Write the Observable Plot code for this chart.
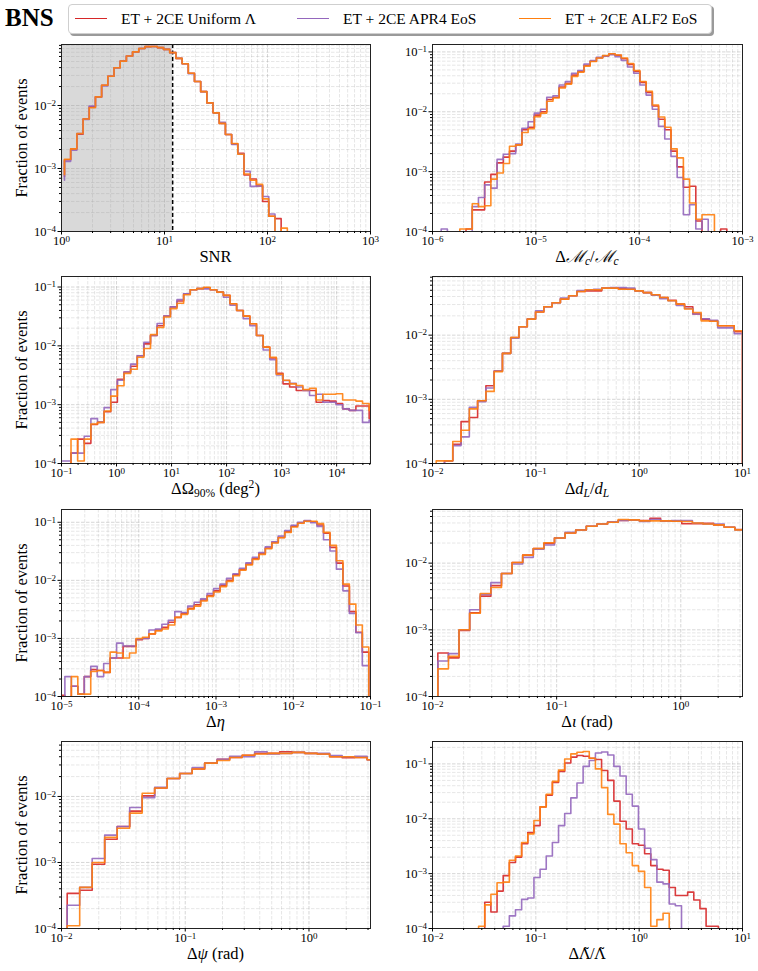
<!DOCTYPE html>
<html><head><meta charset="utf-8">
<script src="https://cdn.jsdelivr.net/npm/d3@7"></script>
<script src="https://cdn.jsdelivr.net/npm/@observablehq/plot@0.6"></script>
<style>
body{margin:0;background:#fff;}
#fig{position:relative;width:758px;height:971px;overflow:hidden;font-family:"Liberation Serif","DejaVu Serif",serif;color:#000;}
.xl{position:absolute;font-size:16.5px;line-height:18px;text-align:center;white-space:nowrap;transform:translateX(-50%);}
.yl{position:absolute;font-size:16.5px;line-height:20px;white-space:nowrap;transform:translate(-50%,-50%) rotate(-90deg);}
sub{font-size:70%;vertical-align:-0.3em;line-height:0;}
sup{font-size:70%;vertical-align:0.5em;line-height:0;}
.lt{font-family:"DejaVu Serif",serif;font-size:15px;}
#title{position:absolute;left:5px;top:4px;font-weight:bold;font-size:25px;}
#legend{position:absolute;left:68px;top:4px;width:642px;height:28px;border:1px solid #cfcfcf;border-radius:4px;background:#fff;box-shadow:2px 2px 0 #9a9a9a;}
.li{position:absolute;top:0;height:28px;line-height:28px;font-size:15.5px;white-space:nowrap;}
.sw{position:absolute;top:13px;width:32px;height:0;border-top:1.6px solid;}
</style></head><body><div id="fig"><div id="title">BNS</div><div id="legend"></div></div>
<script>
// ---------------- data ----------------
const seriesNames = ["ET + 2CE Uniform Λ", "ET + 2CE APR4 EoS", "ET + 2CE ALF2 EoS"];
const seriesColors = ["#d62728", "#9467bd", "#ff7f0e"];

// log10 bin spec: [first edge (log10), bin width (decades)]
const snr_bins = [0.029, 0.0601];
const snr_uniform = [1.38e-3,2.04e-3,3.5e-3,6.1e-3,9.5e-3,1.37e-2,2.1e-2,2.92e-2,3.98e-2,5.06e-2,6.1e-2,7.1e-2,8.05e-2,8.6e-2,8.65e-2,8.3e-2,7.77e-2,6.9e-2,5.6e-2,4.6e-2,3.26e-2,2.41e-2,1.66e-2,1.1e-2,7.65e-3,5.2e-3,3.46e-3,2.46e-3,1.75e-3,7.9e-4,6.8e-4,5.3e-4,3.0e-4,1.75e-4,1.6e-4,0,0];
const snr_apr4 = [1.3e-3,1.95e-3,3.6e-3,6.0e-3,9.8e-3,1.37e-2,2.05e-2,2.92e-2,3.98e-2,5.06e-2,6.1e-2,7.1e-2,8.05e-2,8.6e-2,8.65e-2,8.3e-2,7.77e-2,6.9e-2,5.6e-2,4.6e-2,3.2e-2,2.4e-2,1.66e-2,1.1e-2,7.65e-3,5.4e-3,3.46e-3,2.4e-3,1.7e-3,9.0e-4,5.2e-4,5.3e-4,3.6e-4,1.9e-4,0,0,0];
const snr_alf2 = [1.4e-3,2.05e-3,3.6e-3,6.1e-3,9.2e-3,1.37e-2,2.1e-2,2.92e-2,3.98e-2,5.06e-2,6.1e-2,7.1e-2,8.05e-2,8.6e-2,8.65e-2,8.3e-2,7.77e-2,6.9e-2,5.6e-2,4.6e-2,3.26e-2,2.41e-2,1.66e-2,1.1e-2,7.65e-3,5.2e-3,3.46e-3,2.5e-3,1.68e-3,8.2e-4,6.5e-4,5.6e-4,3.3e-4,1.75e-4,0,1.13e-4,0];
const snr_start = [7.5e-4, 6.5e-4, 8.0e-4];
const snrThreshold = 12;

const mc_bins = [-5.916, 0.0601];
const mc_uniform = [0,0,0,0,1.1e-4,2.3e-4,2.3e-4,6.7e-4,9.0e-4,1.4e-3,1.75e-3,2.2e-3,2.8e-3,5.0e-3,5.5e-3,8.8e-3,1.0e-2,1.6e-2,1.75e-2,2.6e-2,3.0e-2,4.1e-2,4.7e-2,6.0e-2,7.0e-2,8.0e-2,8.6e-2,9.2e-2,8.8e-2,7.7e-2,6.2e-2,4.7e-2,3.1e-2,2.1e-2,1.25e-2,7.5e-3,5.0e-3,2.2e-3,1.2e-3,5.5e-4,5.7e-4,1.5e-4,0,0,0,1.1e-4];
const mc_apr4 = [1.1e-4,0,0,0,0,2.6e-4,3.7e-4,6.0e-4,5.3e-4,1.6e-3,1.95e-3,2.0e-3,2.9e-3,5.3e-3,6.8e-3,9.5e-3,1.1e-2,1.75e-2,1.85e-2,2.8e-2,3.2e-2,4.4e-2,4.9e-2,6.3e-2,7.2e-2,8.1e-2,8.6e-2,9.0e-2,8.3e-2,7.2e-2,5.6e-2,4.4e-2,2.8e-2,1.9e-2,1.1e-2,5.7e-3,3.5e-3,1.8e-3,8.0e-4,1.9e-4,2.8e-4,1.1e-4,1.6e-4,0,0,0];
const mc_alf2 = [0,0,0,1.1e-4,1.1e-4,2.9e-4,2.6e-4,2.7e-4,7.5e-4,9.5e-4,1.37e-3,2.65e-3,2.8e-3,4.5e-3,5.2e-3,8.3e-3,9.5e-3,1.5e-2,1.7e-2,2.5e-2,2.9e-2,3.9e-2,4.6e-2,5.8e-2,6.9e-2,7.9e-2,8.7e-2,9.3e-2,8.9e-2,7.9e-2,6.4e-2,4.9e-2,3.2e-2,2.2e-2,1.3e-2,8.2e-3,5.5e-3,2.4e-3,1.7e-3,7.5e-4,3.0e-4,1.6e-4,1.9e-4,1.9e-4,0,0];

const om_bins = [-1.068, 0.1204];
const om_uniform = [0,0,1.5e-4,2.6e-4,2.2e-4,4.6e-4,5.0e-4,7.6e-4,1.1e-3,2.7e-3,3.6e-3,4.5e-3,6.8e-3,1.08e-2,1.5e-2,2.2e-2,3.2e-2,4.6e-2,5.8e-2,7.7e-2,9.0e-2,9.4e-2,9.7e-2,9.0e-2,8.2e-2,7.2e-2,5.2e-2,4.0e-2,3.2e-2,2.37e-2,1.5e-2,9.5e-3,6.2e-3,3.4e-3,2.26e-3,2.0e-3,1.74e-3,1.74e-3,1.74e-3,1.1e-3,1.17e-3,1.15e-3,1.05e-3,8.5e-4,8.0e-4,9.5e-4,9.5e-4,5.8e-4];
const om_apr4 = [1.1e-4,1.1e-4,1.5e-4,1.5e-4,2.9e-4,5.8e-4,5.1e-4,8.9e-4,1.8e-3,2.6e-3,3.6e-3,4.9e-3,6.8e-3,1.15e-2,1.5e-2,2.4e-2,3.2e-2,4.6e-2,6.1e-2,7.7e-2,9.0e-2,9.4e-2,9.3e-2,9.0e-2,8.2e-2,6.7e-2,4.9e-2,4.0e-2,2.9e-2,2.2e-2,1.5e-2,8.5e-3,5.8e-3,3.2e-3,2.57e-3,2.3e-3,2.0e-3,1.74e-3,1.43e-3,1.5e-3,1.1e-3,1.1e-3,1.0e-3,8.5e-4,8.0e-4,8.0e-4,5.0e-4,5.5e-4];
const om_alf2 = [0,0,2.6e-4,1.1e-4,2.6e-4,4.7e-4,5.0e-4,7.8e-4,1.4e-3,2.1e-3,3.4e-3,4.0e-3,6.4e-3,9.0e-3,1.55e-2,2.05e-2,3.1e-2,4.3e-2,5.3e-2,7.4e-2,9.0e-2,9.4e-2,9.9e-2,9.0e-2,8.2e-2,7.2e-2,5.2e-2,4.0e-2,3.2e-2,2.37e-2,1.5e-2,9.5e-3,6.4e-3,3.3e-3,2.6e-3,2.26e-3,2.12e-3,1.8e-3,1.9e-3,1.2e-3,1.5e-3,1.5e-3,1.53e-3,1.2e-3,1.2e-3,1.15e-3,1.05e-3,8.0e-4];

const dl_bins = [-1.964, 0.08011];
const dl_uniform = [0,1.1e-4,2.0e-4,4.5e-4,5.2e-4,9.5e-4,1.63e-3,2.77e-3,5.2e-3,9.2e-3,1.35e-2,1.78e-2,2.3e-2,2.77e-2,3.19e-2,3.64e-2,4.1e-2,4.79e-2,4.9e-2,4.9e-2,5.4e-2,5.4e-2,5.3e-2,5.2e-2,4.9e-2,4.6e-2,4.25e-2,3.86e-2,3.5e-2,3.04e-2,2.77e-2,2.13e-2,1.78e-2,1.67e-2,1.4e-2,1.4e-2,1.13e-2];
const dl_apr4 = [0,1.1e-4,1.9e-4,2.6e-4,7.5e-4,9.2e-4,1.5e-3,2.77e-3,5.2e-3,9.0e-3,1.35e-2,1.78e-2,2.4e-2,2.77e-2,3.19e-2,3.8e-2,4.1e-2,4.95e-2,5.1e-2,5.2e-2,5.4e-2,5.5e-2,5.5e-2,5.4e-2,4.9e-2,4.6e-2,4.2e-2,3.7e-2,3.43e-2,2.9e-2,2.6e-2,2.13e-2,1.8e-2,1.7e-2,1.3e-2,1.3e-2,1.05e-2];
const dl_alf2 = [1.1e-4,1.1e-4,2.2e-4,3.3e-4,7.1e-4,9.5e-4,1.33e-3,2.7e-3,5.2e-3,9.2e-3,1.35e-2,1.78e-2,2.3e-2,2.77e-2,3.19e-2,3.64e-2,4.1e-2,4.79e-2,5.1e-2,5.1e-2,5.4e-2,5.4e-2,5.2e-2,5.2e-2,4.9e-2,4.6e-2,4.25e-2,3.86e-2,3.43e-2,3.04e-2,2.55e-2,2.25e-2,1.67e-2,1.65e-2,1.4e-2,1.4e-2,1.17e-2];

const eta_bins = [-5.04, 0.0837];
const eta_uniform = [1.05e-4,0,1.5e-4,1.1e-4,2.2e-4,2.9e-4,2.8e-4,2.6e-4,4.6e-4,4.6e-4,7.3e-4,7.3e-4,9.5e-4,1.0e-3,1.2e-3,1.4e-3,1.55e-3,1.9e-3,2.3e-3,2.7e-3,3.3e-3,3.8e-3,4.6e-3,5.5e-3,6.6e-3,8.1e-3,1.0e-2,1.25e-2,1.54e-2,1.9e-2,2.35e-2,2.9e-2,3.6e-2,4.5e-2,5.5e-2,6.9e-2,8.6e-2,9.8e-2,0.105,0.102,0.09,0.065,0.037,0.0198,0.008,0.0029,0.00128,5.8e-4];
const eta_apr4 = [0,2.2e-4,1.5e-4,1.1e-4,2.2e-4,3.3e-4,2.2e-4,3.7e-4,4.6e-4,8.3e-4,7.4e-4,7.4e-4,9.8e-4,1.0e-3,1.4e-3,1.45e-3,1.75e-3,2.05e-3,2.9e-3,2.8e-3,3.6e-3,4.2e-3,4.8e-3,5.9e-3,7.2e-3,8.6e-3,1.08e-2,1.3e-2,1.62e-2,2.0e-2,2.5e-2,3.0e-2,3.8e-2,4.6e-2,5.8e-2,7.2e-2,8.9e-2,0.1,0.107,0.098,0.085,0.05,0.032,0.0156,0.0066,0.0027,0.00125,3.4e-4];
const eta_alf2 = [0,0,2.2e-4,1.1e-4,1.1e-4,2.7e-4,2.8e-4,2.6e-4,5.8e-4,5.6e-4,4.6e-4,5.6e-4,1.0e-3,1.05e-3,1.2e-3,1.35e-3,1.45e-3,1.7e-3,2.3e-3,2.6e-3,3.2e-3,3.6e-3,4.4e-3,5.3e-3,6.3e-3,7.8e-3,9.6e-3,1.2e-2,1.5e-2,1.85e-2,2.3e-2,2.8e-2,3.5e-2,4.4e-2,5.4e-2,6.7e-2,8.3e-2,0.096,0.104,0.104,0.095,0.067,0.04,0.0217,0.0086,0.0039,0.0017,7.1e-4];

const iota_bins = [-1.957, 0.08544];
const iota_uniform = [4.5e-4,3.8e-4,9.8e-4,1.8e-3,3.2e-3,4.6e-3,7.0e-3,1.02e-2,1.32e-2,1.66e-2,1.98e-2,2.38e-2,2.83e-2,3.14e-2,3.57e-2,3.87e-2,4.1e-2,4.35e-2,4.45e-2,4.35e-2,4.7e-2,4.3e-2,4.25e-2,3.9e-2,3.9e-2,3.95e-2,3.74e-2,3.45e-2,3.2e-2];
const iota_apr4 = [3.4e-4,4.4e-4,1.0e-3,2.0e-3,3.4e-3,5.1e-3,7.0e-3,9.7e-3,1.22e-2,1.62e-2,1.87e-2,2.38e-2,2.9e-2,3.14e-2,3.57e-2,3.87e-2,4.15e-2,4.35e-2,4.45e-2,4.2e-2,4.5e-2,4.3e-2,4.35e-2,4.35e-2,4.0e-2,3.87e-2,3.87e-2,3.45e-2,3.15e-2];
const iota_alf2 = [2.6e-4,4.0e-4,1.0e-3,1.77e-3,3.5e-3,4.3e-3,7.0e-3,1.02e-2,1.32e-2,1.66e-2,2.02e-2,2.38e-2,2.83e-2,3.14e-2,3.57e-2,3.87e-2,4.1e-2,4.5e-2,4.45e-2,4.3e-2,4.3e-2,4.3e-2,4.25e-2,4.2e-2,4.0e-2,3.87e-2,3.74e-2,3.45e-2,3.15e-2];

const psi_bins = [-1.954, 0.101];
const psi_uniform = [3.4e-4,3.8e-4,9.4e-4,2.25e-3,3.5e-3,6.0e-3,1.02e-2,1.34e-2,1.87e-2,2.23e-2,2.6e-2,3.2e-2,3.67e-2,3.9e-2,4.2e-2,4.5e-2,4.5e-2,4.75e-2,4.65e-2,4.5e-2,4.4e-2,4.0e-2,3.85e-2,3.9e-2,3.6e-2];
const psi_apr4 = [2.25e-4,4.2e-4,1.15e-3,2.6e-3,3.5e-3,6.8e-3,9.6e-3,1.38e-2,1.87e-2,2.23e-2,2.75e-2,3.2e-2,3.67e-2,4.05e-2,4.0e-2,4.75e-2,4.4e-2,4.5e-2,4.65e-2,4.5e-2,4.5e-2,4.15e-2,4.0e-2,4.05e-2,3.6e-2];
const psi_alf2 = [1.1e-4,4.2e-4,1.0e-3,2.4e-3,3.3e-3,5.6e-3,1.12e-2,1.34e-2,1.87e-2,2.23e-2,2.6e-2,3.2e-2,3.5e-2,3.9e-2,4.2e-2,4.4e-2,4.5e-2,4.5e-2,4.65e-2,4.5e-2,4.4e-2,4.0e-2,4.0e-2,3.9e-2,3.6e-2];

const lam_bins = [-1.5538, 0.0595];
const lam_uniform = [0,3.0e-4,2.0e-4,4.8e-4,9.2e-4,1.6e-3,2.0e-3,3.5e-3,5.6e-3,7.5e-3,1.65e-2,2.7e-2,4.6e-2,7.3e-2,0.104,0.133,0.142,0.138,0.127,0.12,0.076,0.05,0.021,9.0e-3,6.5e-3,3.5e-3,3.3e-3,2.3e-3,1.4e-3,1.2e-3,1.15e-3,5.6e-4,4.0e-4,4.0e-4,4.6e-4,3.3e-4,2.3e-4,1.1e-4,1.1e-4];
const lam_apr4 = [0,0,0,0,1.1e-4,1.7e-4,2.2e-4,3.4e-4,3.6e-4,8.5e-4,1.2e-3,2.1e-3,3.7e-3,7.5e-3,1.25e-2,2.4e-2,4.5e-2,9.0e-2,0.115,0.158,0.165,0.145,0.09,0.06,0.028,0.017,6.5e-3,2.9e-3,1.8e-3,7.0e-4,6.5e-4,2.8e-4,2.6e-4,0,0,0,0,0,0];
const lam_alf2 = [1.1e-4,2.7e-4,4.2e-4,6.8e-4,7.0e-4,1.75e-3,2.1e-3,3.7e-3,5.3e-3,9.3e-3,1.65e-2,2.8e-2,4.8e-2,7.7e-2,0.123,0.152,0.163,0.168,0.127,0.081,0.037,0.012,8.0e-3,3.5e-3,2.4e-3,1.4e-3,1.1e-3,5.6e-4,1.1e-4,1.45e-4,1.9e-4,0,0,0,0,0,0,0,0];

// axis domains and labelled decades (exponents)
const snr_x = [1, 1000], snr_y = [1e-4, 0.093], snr_xexp = [0,1,2,3], snr_yexp = [-4,-3,-2];
const mc_x = [1e-6, 1e-3], mc_y = [1e-4, 0.133], mc_xexp = [-6,-5,-4,-3], mc_yexp = [-4,-3,-2,-1];
const om_x = [0.1, 41253], om_y = [1e-4, 0.151], om_xexp = [-1,0,1,2,3,4], om_yexp = [-4,-3,-2,-1];
const dl_x = [0.01, 10], dl_y = [1e-4, 0.082], dl_xexp = [-2,-1,0,1], dl_yexp = [-4,-3,-2];
const eta_x = [1e-5, 0.1], eta_y = [1e-4, 0.166], eta_xexp = [-5,-4,-3,-2,-1], eta_yexp = [-4,-3,-2,-1];
const iota_x = [0.01, Math.PI], iota_y = [1e-4, 0.0637], iota_xexp = [-2,-1,0], iota_yexp = [-4,-3,-2];
const psi_x = [0.01, Math.PI], psi_y = [1e-4, 0.068], psi_xexp = [-2,-1,0], psi_yexp = [-4,-3,-2];
const lam_x = [0.01, 10], lam_y = [1e-4, 0.256], lam_xexp = [-2,-1,0,1], lam_yexp = [-4,-3,-2,-1];

const xLabels = [
  "SNR",
  "Δ<i>ℳ</i><sub><i>c</i></sub>/<i>ℳ</i><sub><i>c</i></sub>",
  "ΔΩ<sub>90%</sub> (deg<sup>2</sup>)",
  "Δ<i>d</i><sub><i>L</i></sub>/<i>d</i><sub><i>L</i></sub>",
  "Δ<i>η</i>",
  "Δ<i>ι</i> (rad)",
  "Δ<i>ψ</i> (rad)",
  "Δ<span class=\"lt\">Λ\u0303</span>/<span class=\"lt\">Λ\u0303</span>"
];
const yLabel = "Fraction of events";

// ---------------- layout ----------------
const panels = [
  {bins: snr_bins, s: [snr_uniform, snr_apr4, snr_alf2], x: snr_x, y: snr_y, xe: snr_xexp, ye: snr_yexp, start: snr_start, shade: snrThreshold},
  {bins: mc_bins, s: [mc_uniform, mc_apr4, mc_alf2], x: mc_x, y: mc_y, xe: mc_xexp, ye: mc_yexp},
  {bins: om_bins, s: [om_uniform, om_apr4, om_alf2], x: om_x, y: om_y, xe: om_xexp, ye: om_yexp},
  {bins: dl_bins, s: [dl_uniform, dl_apr4, dl_alf2], x: dl_x, y: dl_y, xe: dl_xexp, ye: dl_yexp},
  {bins: eta_bins, s: [eta_uniform, eta_apr4, eta_alf2], x: eta_x, y: eta_y, xe: eta_xexp, ye: eta_yexp},
  {bins: iota_bins, s: [iota_uniform, iota_apr4, iota_alf2], x: iota_x, y: iota_y, xe: iota_xexp, ye: iota_yexp},
  {bins: psi_bins, s: [psi_uniform, psi_apr4, psi_alf2], x: psi_x, y: psi_y, xe: psi_xexp, ye: psi_yexp},
  {bins: lam_bins, s: [lam_uniform, lam_apr4, lam_alf2], x: lam_x, y: lam_y, xe: lam_xexp, ye: lam_yexp}
];
const colLeft = [0, 379], svgW = 379, mLeft = [61, 53], mRight = [9, 16];
const rowTop = [36, 268, 501, 733], svgH = 232, mTop = 8, mBottom = 37;
const FLOOR = 1e-8;

function stepPoints([lo, w], vals, start) {
  const e = i => Math.pow(10, lo + i * w);
  const pts = [{x: e(0), y: start ?? FLOOR}];
  vals.forEach((v, i) => { const y = v > 0 ? v : FLOOR; pts.push({x: e(i), y}, {x: e(i + 1), y}); });
  pts.push({x: e(vals.length), y: FLOOR});
  return pts;
}
function minor([a, b]) {
  const out = [];
  for (let d = Math.floor(Math.log10(a)); d <= Math.ceil(Math.log10(b)); d++)
    for (let m = 2; m <= 9; m++) { const v = m * Math.pow(10, d); if (v > a * 1.0001 && v < b * 0.9999) out.push(v); }
  return out;
}
const fmt = d => "10^" + Math.round(Math.log10(d));
const fig = document.getElementById("fig");
const FONT = '"Liberation Serif","DejaVu Serif",serif';

panels.forEach((p, i) => {
  const col = i % 2, row = Math.floor(i / 2);
  const xMaj = p.xe.map(e => Math.pow(10, e)), yMaj = p.ye.map(e => Math.pow(10, e));
  const xMin = minor(p.x), yMin = minor(p.y);
  const marks = [];
  if (p.shade) marks.push(Plot.rect([p.shade], {x1: () => p.x[0], x2: d => d, y1: () => p.y[0], y2: () => p.y[1], fill: "#d9d9d9"}));
  marks.push(
    Plot.gridX(xMin, {stroke: "#9a9a9a", strokeOpacity: 0.3, strokeDasharray: "3.5,1.5", strokeWidth: 0.8}),
    Plot.gridY(yMin, {stroke: "#9a9a9a", strokeOpacity: 0.3, strokeDasharray: "3.5,1.5", strokeWidth: 0.8}),
    Plot.gridX(xMaj, {stroke: "#9a9a9a", strokeOpacity: 0.5, strokeDasharray: "3.5,1.5", strokeWidth: 0.8}),
    Plot.gridY(yMaj, {stroke: "#9a9a9a", strokeOpacity: 0.5, strokeDasharray: "3.5,1.5", strokeWidth: 0.8})
  );
  if (p.shade) marks.push(Plot.ruleX([p.shade], {stroke: "#000", strokeWidth: 1.5, strokeDasharray: "4,2.5"}));
  p.s.forEach((vals, k) => {
    marks.push(Plot.line(stepPoints(p.bins, vals, p.start ? p.start[k] : undefined),
      {x: "x", y: "y", stroke: seriesColors[k], strokeWidth: 1.6, strokeOpacity: 0.9, clip: true}));
  });
  marks.push(
    Plot.frame({stroke: "#222", strokeWidth: 1}),
    Plot.axisX(xMin, {anchor: "bottom", tickSize: 2, tickFormat: () => "", label: null}),
    Plot.axisY(yMin, {anchor: "left", tickSize: 2, tickFormat: () => "", label: null}),
    Plot.axisX(xMaj, {anchor: "bottom", tickSize: 3.5, tickPadding: 1.5, tickFormat: fmt, label: null}),
    Plot.axisY(yMaj, {anchor: "left", tickSize: 3.5, tickPadding: 2, tickFormat: fmt, label: null})
  );
  const svg = Plot.plot({
    width: svgW, height: svgH,
    marginLeft: mLeft[col], marginRight: mRight[col], marginTop: mTop, marginBottom: mBottom,
    x: {type: "log", domain: p.x, axis: null},
    y: {type: "log", domain: p.y, axis: null},
    style: {fontFamily: FONT, fontSize: "12.5px", background: "transparent", overflow: "visible", color: "#000"},
    marks
  });
  svg.style.position = "absolute";
  svg.style.left = colLeft[col] + "px";
  svg.style.top = rowTop[row] + "px";
  svg.querySelectorAll("g[aria-label*='tick label']").forEach(g => { g.setAttribute("font-size", "12.5"); g.style.fontSize = "12.5px"; });
  svg.querySelectorAll("text").forEach(t => {
    const m = /^10\^(-?\d+)$/.exec(t.textContent.trim());
    if (m) {
      t.style.fontSize = "12.5px";
      t.style.fontFamily = FONT;
      t.textContent = "10";
      const ts = document.createElementNS("http://www.w3.org/2000/svg", "tspan");
      ts.setAttribute("dy", "-0.42em");
      ts.style.fontSize = "9px";
      ts.textContent = m[1].replace("-", "\u2212");
      t.appendChild(ts);
    }
  });
  fig.appendChild(svg);
  // x label
  const plotL = colLeft[col] + mLeft[col], plotW = svgW - mLeft[col] - mRight[col];
  const xl = document.createElement("div");
  xl.className = "xl";
  xl.innerHTML = xLabels[i];
  xl.style.left = (plotL + plotW / 2) + "px";
  xl.style.top = (rowTop[row] + svgH - mBottom + 17) + "px";
  fig.appendChild(xl);
  if (col === 0) {
    const yl = document.createElement("div");
    yl.className = "yl";
    yl.textContent = yLabel;
    yl.style.left = "22px";
    yl.style.top = (rowTop[row] + mTop + (svgH - mTop - mBottom) / 2) + "px";
    fig.appendChild(yl);
  }
});

// legend
const legend = document.getElementById("legend");
const legendPos = [[6, 52], [228, 274], [450, 496]];
seriesNames.forEach((name, k) => {
  const sw = document.createElement("div");
  sw.className = "sw"; sw.style.left = legendPos[k][0] + "px"; sw.style.borderColor = seriesColors[k];
  legend.appendChild(sw);
  const li = document.createElement("div");
  li.className = "li"; li.style.left = legendPos[k][1] + "px"; li.textContent = name;
  legend.appendChild(li);
});
</script></body></html>
